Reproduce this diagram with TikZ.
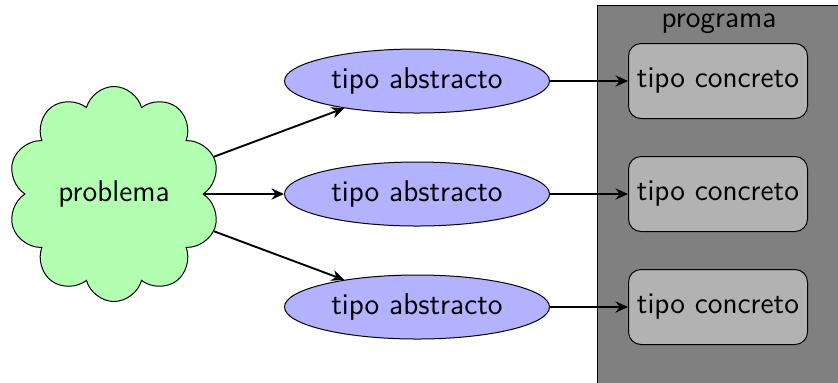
\documentclass[tikz,border=0pt]{standalone}
\usetikzlibrary{shapes.symbols,shapes.geometric,arrows.meta}
\begin{document}
\begin{tikzpicture}[x=0.4pt,y=-0.4pt,font=\sffamily\large,
  >={Stealth[length=5pt,width=4.5pt]},
  conn/.style={->,line width=0.75pt},
  abs/.style={ellipse,draw,fill=blue!30,minimum width=106pt,minimum height=25.6pt,inner sep=0pt},
  conc/.style={rectangle,rounded corners=5pt,draw,fill=gray!60,minimum width=71.6pt,minimum height=30pt,inner sep=0pt},
  prob/.style={cloud,cloud puffs=10,cloud puff arc=150,aspect=1,draw,fill=green!30,minimum width=85pt,minimum height=86pt,inner sep=0pt}]
\useasboundingbox (0,0) rectangle (838,382);
\node[draw,fill=gray,anchor=north west,minimum width=105pt,minimum height=160pt,inner sep=0pt] (prog) at (597,5) {};
\node (progl) at (719,24) {programa};
\node[prob] (p) at (114,194) {problema};
\node[abs] (a1) at (417,81) {tipo abstracto};
\node[abs] (a2) at (417,194) {tipo abstracto};
\node[abs] (a3) at (417,307) {tipo abstracto};
\node[conc] (c1) at (718,81) {tipo concreto};
\node[conc] (c2) at (718,194) {tipo concreto};
\node[conc] (c3) at (718,307) {tipo concreto};
\draw[conn] (p) -- (a1);
\draw[conn] (p) -- (a2);
\draw[conn] (p) -- (a3);
\draw[conn] (a1) -- (c1);
\draw[conn] (a2) -- (c2);
\draw[conn] (a3) -- (c3);
\end{tikzpicture}
\end{document}
